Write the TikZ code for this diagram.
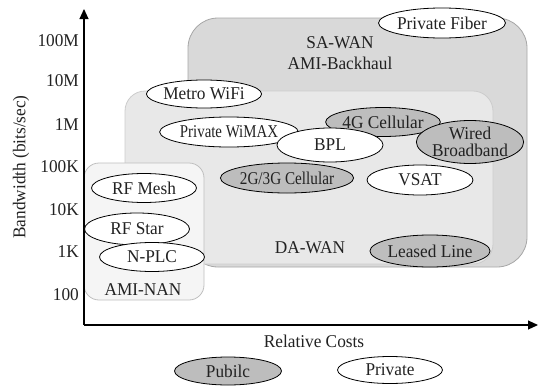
\documentclass[tikz,border=0pt]{standalone}
\usepackage{fontspec}
\setmainfont{Liberation Serif}[FakeStretch=0.96]
\usetikzlibrary{shapes.geometric,arrows.meta}
\definecolor{txt}{HTML}{222222}
\definecolor{pubgray}{HTML}{BDBDBD}
\newcommand{\narrow}[2]{\scalebox{#1}[1]{#2}}
\tikzset{
  net/.style={ellipse,draw=black,line width=0.8pt,minimum width=105pt,minimum height=30pt,inner sep=0pt,font=\fontsize{18}{18}\selectfont,text=txt},
  pub/.style={net,fill=pubgray},
  priv/.style={net,fill=white},
  lbl/.style={font=\fontsize{18}{18}\selectfont,text=txt,inner sep=0pt},
  axis/.style={line width=1.1pt,-{Triangle[length=10pt,width=9pt]}}
}
\begin{document}
\begin{tikzpicture}[x=1pt,y=-1pt]
\useasboundingbox (0,0) rectangle (539,386);
% regions
\draw[fill=black!15,draw=black!35,line width=0.8pt,rounded corners=30pt] (188,18) rectangle (527,267);
\draw[fill=black!9,draw=black!20,line width=0.8pt,rounded corners=20pt] (125,91) rectangle (493,264);
\draw[fill=black!4,draw=black!25,line width=0.8pt,rounded corners=15pt] (84,163) rectangle (204,300);
% region labels
\node[lbl] (sawan) at (340,43) {SA-WAN};
\node[lbl] (amibh) at (340,63) {AMI-Backhaul};
\node[lbl] (dawan) at (310,248) {DA-WAN};
\node[lbl] (aminan) at (143,290) {AMI-NAN};
% axes
\coordinate (o) at (84,325);
\coordinate (ytop) at (84,9);
\coordinate (xend) at (538,325);
\draw[axis] (o) -- (ytop);
\draw[axis] (o) -- (xend);
% ticks
\node[lbl,anchor=east] (t1) at (79,41) {100M};
\node[lbl,anchor=east] (t2) at (79,81) {10M};
\node[lbl,anchor=east] (t3) at (79,125) {1M};
\node[lbl,anchor=east] (t4) at (79,167) {100K};
\node[lbl,anchor=east] (t5) at (79,210) {10K};
\node[lbl,anchor=east] (t6) at (79,252) {1K};
\node[lbl,anchor=east] (t7) at (79,295) {100};
\node[lbl,rotate=90] (ylab) at (21,167) {Bandwidth (bits/sec)};
\node[lbl] (xlab) at (314,341) {Relative Costs};
% networks
\node[priv,minimum height=30pt] (fiber) at (442,23) {Private Fiber};
\node[priv,minimum height=28pt] (metro) at (204,94) {Metro WiFi};
\node[priv] (wimax) at (229,132) {\narrow{0.86}{Private WiMAX}};
\node[pub,minimum height=29pt] (g4) at (383,122) {4G Cellular};
\node[priv,minimum height=34pt,minimum width=106pt] (bpl) at (330,145) {BPL};
\node[pub,minimum height=43pt,align=center] (wired) at (470,142) {Wired\\[-1pt]Broadband};
\node[pub,minimum width=103pt] (g23) at (287,178) {\narrow{0.88}{2G/3G Cellular}};
\node[priv,minimum width=106pt] (vsat) at (420,180) {VSAT};
\node[priv,minimum height=29pt] (mesh) at (144,188) {RF Mesh};
\node[priv,minimum height=32pt] (star) at (137,229) {RF Star};
\node[priv,minimum height=29pt] (nplc) at (152,257) {N-PLC};
\node[pub,minimum height=32pt,minimum width=107pt] (leased) at (430,251) {Leased Line};
% legend
\node[pub,minimum height=28pt,minimum width=107pt] (lpub) at (228,371) {Pubilc};
\node[priv,minimum height=27pt,minimum width=105pt] (lpriv) at (390,370) {Private};
\end{tikzpicture}
\end{document}
